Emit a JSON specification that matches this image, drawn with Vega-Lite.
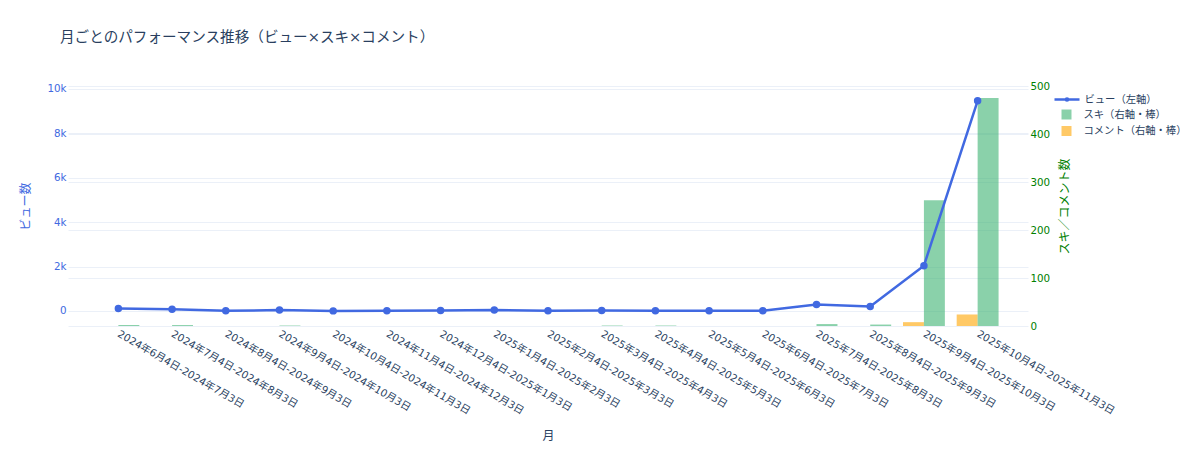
{
  "$schema": "https://vega.github.io/schema/vega-lite/v6.json",
  "width": 960,
  "height": 240,
  "autosize": {"type": "none"},
  "padding": {"left": 68, "top": 86, "right": 172, "bottom": 124},
  "background": "white",
  "title": {
    "text": "月ごとのパフォーマンス推移（ビュー×スキ×コメント）",
    "anchor": "start",
    "frame": "group",
    "dx": -8,
    "offset": 36,
    "fontSize": 14.6,
    "fontWeight": "normal",
    "color": "#2a3f5f",
    "font": "DejaVu Sans, Noto Sans CJK JP"
  },
  "config": {
    "view": {"stroke": null},
    "font": "DejaVu Sans, Noto Sans CJK JP",
    "axis": {
      "domain": false,
      "ticks": false,
      "labelFontSize": 10.3,
      "labelFont": "DejaVu Sans, Noto Sans CJK JP",
      "titleFont": "DejaVu Sans, Noto Sans CJK JP",
      "titleFontWeight": "normal",
      "titleFontSize": 12,
      "gridColor": "#EBF0F8",
      "gridOpacity": 1
    },
    "legend": {
      "labelFont": "DejaVu Sans, Noto Sans CJK JP",
      "labelFontSize": 10.3,
      "labelColor": "#2a3f5f",
      "padding": 0,
      "labelOffset": 11,
      "rowPadding": 4.5
    }
  },
  "data": {
    "values": [
      {"month": "2024年6月4日-2024年7月3日", "views": 115, "ski": 2, "comment": 0},
      {"month": "2024年7月4日-2024年8月3日", "views": 75, "ski": 2, "comment": 0},
      {"month": "2024年8月4日-2024年9月3日", "views": 10, "ski": 0, "comment": 0},
      {"month": "2024年9月4日-2024年10月3日", "views": 40, "ski": 1, "comment": 0},
      {"month": "2024年10月4日-2024年11月3日", "views": 5, "ski": 0, "comment": 0},
      {"month": "2024年11月4日-2024年12月3日", "views": 10, "ski": 0, "comment": 0},
      {"month": "2024年12月4日-2025年1月3日", "views": 25, "ski": 0, "comment": 0},
      {"month": "2025年1月4日-2025年2月3日", "views": 45, "ski": 0, "comment": 0},
      {"month": "2025年2月4日-2025年3月3日", "views": 10, "ski": 0, "comment": 0},
      {"month": "2025年3月4日-2025年4月3日", "views": 20, "ski": 1, "comment": 0},
      {"month": "2025年4月4日-2025年5月3日", "views": 15, "ski": 1, "comment": 0},
      {"month": "2025年5月4日-2025年6月3日", "views": 10, "ski": 0, "comment": 0},
      {"month": "2025年6月4日-2025年7月3日", "views": 10, "ski": 0, "comment": 0},
      {"month": "2025年7月4日-2025年8月3日", "views": 290, "ski": 4, "comment": 0},
      {"month": "2025年8月4日-2025年9月3日", "views": 200, "ski": 3, "comment": 0},
      {"month": "2025年9月4日-2025年10月3日", "views": 2040, "ski": 262, "comment": 8},
      {"month": "2025年10月4日-2025年11月3日", "views": 9470, "ski": 475, "comment": 24}
    ]
  },
  "encoding": {
    "x": {
      "field": "month",
      "type": "nominal",
      "sort": null,
      "scale": {"paddingInner": 0.22, "paddingOuter": 0.548},
      "axis": {
        "title": "月",
        "titleColor": "#2a3f5f",
        "titleFontSize": 12,
        "titleY": 109,
        "titleBaseline": "middle",
        "labelAngle": 30,
        "labelAlign": "left",
        "labelBaseline": "middle",
        "labelPadding": 7,
        "labelColor": "#2a3f5f",
        "labelOverlap": false,
        "labelLimit": 400,
        "grid": false
      }
    }
  },
  "layer": [
    {
      "transform": [{"fold": ["comment", "ski"], "as": ["series", "count"]}],
      "mark": {"type": "bar", "opacity": 0.6},
      "encoding": {
        "xOffset": {
          "field": "series",
          "type": "nominal",
          "scale": {"domain": ["comment", "ski"], "paddingInner": 0, "paddingOuter": 0}
        },
        "y": {
          "field": "count",
          "type": "quantitative",
          "scale": {"domain": [0, 500], "nice": false, "zero": true},
          "axis": {
            "orient": "right",
            "title": "スキ／コメント数",
            "titleColor": "green",
            "titleAngle": -90,
            "titleBaseline": "top",
            "titlePadding": 10,
            "labelColor": "green",
            "labelPadding": 2,
            "values": [0, 100, 200, 300, 400, 500],
            "grid": true
          }
        },
        "fill": {
          "field": "series",
          "type": "nominal",
          "scale": {"domain": ["ski", "comment"], "range": ["#3CB371", "#FFA500"]},
          "legend": {
            "orient": "none",
            "legendX": 992.5,
            "legendY": 22.5,
            "title": null,
            "symbolType": "square",
            "symbolSize": 100,
            "labelExpr": "datum.value === 'ski' ? 'スキ（右軸・棒）' : 'コメント（右軸・棒）'"
          }
        }
      }
    },
    {
      "mark": {"type": "line", "strokeWidth": 2.5, "point": {"filled": true, "size": 30, "color": "#4169E1"}},
      "encoding": {
        "y": {
          "field": "views",
          "type": "quantitative",
          "scale": {"domain": [-676, 10135], "nice": false, "zero": false},
          "axis": {
            "orient": "left",
            "title": "ビュー数",
            "titleColor": "royalblue",
            "titlePadding": 14.5,
            "labelColor": "royalblue",
            "labelPadding": 2,
            "values": [0, 2000, 4000, 6000, 8000, 10000],
            "labelExpr": "datum.value === 0 ? '0' : (datum.value / 1000) + 'k'",
            "grid": true
          }
        },
        "stroke": {
          "datum": "views",
          "scale": {"domain": ["views"], "range": ["#4169E1"]},
          "legend": {
            "orient": "none",
            "legendX": 992.5,
            "legendY": 7,
            "title": null,
            "symbolType": "M-2.5,0H2.5M-0.22,0A0.22,0.22 0 1,0 0.22,0A0.22,0.22 0 1,0 -0.22,0",
            "symbolSize": 100,
            "symbolStrokeWidth": 2.5,
            "symbolFillColor": "#4169E1",
            "labelExpr": "'ビュー（左軸）'"
          }
        }
      }
    }
  ],
  "resolve": {"scale": {"y": "independent"}}
}
